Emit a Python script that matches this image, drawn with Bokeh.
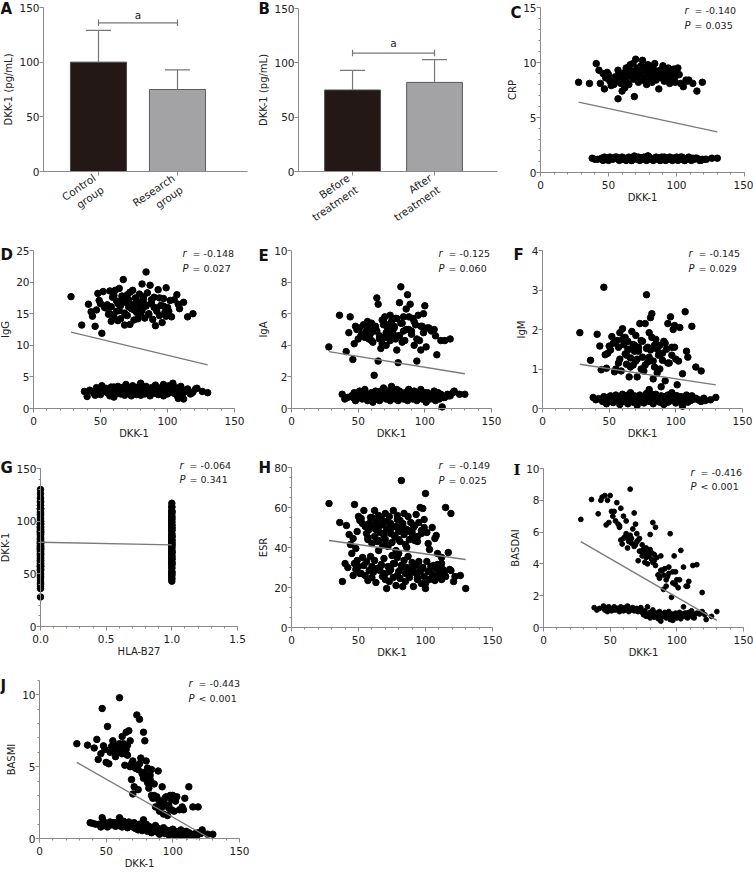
from bokeh.plotting import figure
from bokeh.layouts import row, column
from bokeh.models import (Range1d, FixedTicker, Label, Whisker, TeeHead,
                          ColumnDataSource, PrintfTickFormatter)
from bokeh.embed import file_html
from bokeh.resources import INLINE

# ---------------- data ----------------
A_CATS = ["Control\ngroup", "Research\ngroup"]
A_MEAN = [100, 75]
A_SD = [29, 18]
A_SIG = 136
A_SIG_TEXT = 143

B_CATS = ["Before\ntreatment", "After\ntreatment"]
B_MEAN = [75, 82]
B_SD = [18, 21]
B_SIG = 109
B_SIG_TEXT = 118

BAR_FILL = ["#231815", "#a3a3a6"]
BAR_LINE = ["#4a4a4a", "#5a5a5a"]

DKK1_HIGH = [28, 36, 41, 43, 44, 46, 47, 48, 50, 51,
             52, 54, 55, 56, 57, 58, 58, 59, 60, 61,
             62, 62, 63, 64, 65, 65, 66, 67, 68, 68,
             69, 70, 70, 71, 72, 73, 74, 74, 75, 76,
             77, 78, 78, 79, 80, 81, 81, 82, 83, 84,
             84, 85, 86, 87, 88, 89, 90, 91, 92, 93,
             94, 95, 96, 97, 98, 99, 100, 101, 103, 105,
             107, 109, 112, 115, 119,
             49, 53, 57, 60, 63, 64, 66, 69, 71, 72, 75, 77, 79, 80, 82, 83, 86, 88, 90, 92,
             94, 97, 99, 102, 108]
DKK1_LOW = [38, 40, 45, 46, 47, 48, 49, 50, 51, 53,
            54, 55, 57, 58, 59, 60, 61, 62, 63, 64,
            65, 66, 67, 68, 69, 70, 71, 72, 73, 74,
            75, 76, 77, 78, 79, 80, 80, 81, 82, 83,
            84, 85, 86, 87, 88, 89, 90, 91, 92, 93,
            94, 95, 96, 97, 98, 99, 100, 101, 102, 103,
            104, 105, 106, 107, 108, 109, 110, 111, 112, 113,
            115, 117, 119, 122, 130,
            42, 52, 56, 60, 64, 67, 70, 73, 76, 79, 82, 85, 88, 91, 94, 97, 100, 103, 106, 109,
            112, 114, 118, 121, 126]

HLA_HIGH = [0, 0, 0, 1, 0, 1, 0, 0, 1, 0,
            1, 0, 0, 1, 0, 1, 0, 0, 1, 0,
            0, 1, 0, 1, 0, 0, 1, 0, 1, 0,
            0, 1, 0, 0, 1, 0, 1, 0, 0, 1,
            0, 0, 1, 0, 1, 0, 0, 1, 0, 1,
            0, 0, 1, 0, 1, 0, 0, 1, 0, 0,
            1, 0, 1, 0, 0, 1, 0, 1, 0, 1,
            0, 1, 0, 0, 0,
            1, 0, 0, 1, 0, 0, 1, 0, 1, 0, 0, 1, 0, 0, 1, 0, 1, 0, 0, 1,
            0, 1, 0, 0, 1]
HLA_LOW = [0, 0, 1, 0, 0, 1, 0, 0, 1, 0,
           0, 1, 0, 0, 1, 0, 1, 0, 0, 1,
           0, 0, 1, 0, 0, 1, 0, 1, 0, 0,
           1, 0, 0, 1, 0, 0, 1, 0, 1, 0,
           0, 1, 0, 0, 1, 0, 0, 1, 0, 1,
           0, 0, 1, 0, 0, 1, 0, 0, 1, 0,
           1, 0, 0, 1, 0, 0, 1, 0, 0, 1,
           0, 1, 0, 0, 0,
           0, 1, 0, 0, 1, 0, 1, 0, 0, 1, 0, 1, 0, 0, 1, 0, 0, 1, 0, 1,
           0, 1, 0, 0, 0]

CRP_HIGH = [8.2, 8.1, 9.9, 9.3, 8.1, 9.0, 7.6, 8.6, 8.9, 8.3,
            7.9, 8.0, 8.7, 8.4, 6.7, 8.8, 9.0, 8.1, 7.4, 8.6,
            9.1, 7.7, 8.3, 9.4, 8.0, 9.6, 8.8, 9.2, 8.5, 9.9,
            6.9, 10.3, 8.9, 9.5, 8.2, 9.0, 9.7, 8.6, 10.2, 8.4,
            9.3, 8.9, 8.0, 9.8, 9.1, 8.5, 9.6, 8.2, 9.4, 8.8,
            9.9, 8.4, 9.2, 7.6, 9.0, 8.6, 9.7, 8.3, 9.3, 8.7,
            9.5, 8.1, 9.0, 8.5, 9.4, 8.2, 8.9, 9.5, 8.1, 7.8,
            8.4, 8.4, 8.1, 7.4, 8.2,
            9.1, 8.4, 9.3, 8.7, 9.5, 8.9, 9.8, 8.5, 9.2, 8.8, 9.6, 8.3, 9.0, 9.4, 8.6, 9.1,
            8.9, 9.3, 8.6, 9.2, 8.8, 9.0, 8.7, 8.9, 8.3]
CRP_LOW = [1.3, 1.2, 1.3, 1.1, 1.4, 1.2, 1.3, 1.1, 1.4, 1.2,
           1.3, 1.4, 1.2, 1.1, 1.3, 1.4, 1.2, 1.3, 1.1, 1.2,
           1.4, 1.3, 1.1, 1.2, 1.5, 1.3, 1.2, 1.4, 1.1, 1.3,
           1.2, 1.4, 1.3, 1.1, 1.5, 1.2, 1.4, 1.3, 1.2, 1.1,
           1.3, 1.4, 1.2, 1.3, 1.1, 1.4, 1.2, 1.3, 1.1, 1.2,
           1.3, 1.4, 1.2, 1.1, 1.3, 1.2, 1.4, 1.1, 1.3, 1.2,
           1.4, 1.3, 1.1, 1.2, 1.3, 1.4, 1.2, 1.1, 1.3, 1.2,
           1.3, 1.1, 1.2, 1.2, 1.3,
           1.2, 1.3, 1.4, 1.2, 1.3, 1.1, 1.4, 1.2, 1.3, 1.5, 1.2, 1.3, 1.1, 1.4, 1.2, 1.3,
           1.2, 1.4, 1.1, 1.3, 1.2, 1.3, 1.1, 1.2, 1.3]

IGG_HIGH = [17.7, 13.2, 16.5, 15.3, 14.6, 13.0, 15.6, 18.2, 16.6, 11.9,
            18.5, 15.9, 16.4, 14.9, 18.6, 13.8, 16.1, 17.6, 14.5, 18.7,
            15.4, 17.0, 13.9, 19.0, 16.3, 14.2, 17.8, 20.4, 15.1, 13.2,
            16.8, 18.0, 14.7, 17.2, 13.3, 15.8, 18.7, 16.4, 14.0, 17.5,
            15.2, 16.9, 14.2, 18.1, 16.0, 19.7, 15.5, 17.3, 14.3, 21.6,
            16.2, 18.3, 15.0, 19.5, 16.6, 14.1, 17.6, 13.1, 15.9, 18.8,
            14.7, 16.3, 13.6, 17.4, 15.2, 19.1, 16.0, 15.4, 14.5, 17.2,
            18.0, 15.8, 16.8, 14.5, 15.0,
            17.1, 16.0, 15.0, 17.9, 16.6, 15.5, 17.3, 14.8, 16.1, 18.4, 15.6, 17.0, 16.3,
            15.1, 17.7, 16.5, 14.9, 17.2, 16.0, 15.4, 17.5, 16.2, 14.6, 17.1, 16.5]
IGG_LOW = [2.7, 1.9, 2.4, 2.1, 3.3, 2.6, 3.0, 2.2, 3.6, 2.8,
           3.2, 2.5, 2.0, 3.4, 2.7, 1.8, 3.1, 2.4, 3.5, 2.9,
           2.3, 3.3, 2.6, 2.1, 3.8, 2.9, 2.4, 3.2, 2.0, 3.6,
           2.7, 3.0, 2.2, 3.4, 2.5, 4.0, 2.1, 3.1, 2.8, 2.3,
           3.5, 2.6, 3.0, 2.0, 3.3, 2.7, 2.4, 3.7, 2.9, 2.2,
           3.1, 2.5, 3.4, 2.0, 2.8, 3.2, 2.3, 3.6, 2.6, 3.0,
           4.0, 2.4, 3.3, 2.1, 1.6, 2.9, 3.5, 2.2, 1.5, 2.7,
           3.1, 2.3, 2.6, 3.2, 2.5,
           2.9, 3.1, 2.6, 3.4, 2.8, 3.0, 2.5, 3.3, 2.7, 3.5, 2.4, 3.2, 2.9, 2.6, 3.1, 3.8,
           2.8, 3.0, 2.3, 3.3, 2.6, 2.9, 2.4, 3.1, 2.7]

IGA_HIGH = [3.9, 5.9, 3.6, 4.8, 5.8, 3.1, 4.1, 5.2, 4.4, 5.1,
            4.6, 5.3, 4.5, 4.9, 5.2, 4.4, 5.0, 4.7, 5.4, 4.2,
            4.9, 2.1, 5.1, 7.0, 6.6, 3.0, 4.6, 3.8, 5.6, 4.1,
            5.3, 4.5, 5.8, 4.0, 5.1, 4.7, 5.9, 4.3, 5.5, 4.8,
            5.2, 4.4, 5.7, 3.7, 2.9, 6.7, 4.6, 7.7, 5.4, 4.9,
            5.8, 4.3, 6.3, 7.2, 5.0, 6.6, 4.7, 5.7, 4.0, 5.3,
            3.0, 5.9, 4.3, 3.7, 5.2, 6.0, 6.5, 3.9, 5.1, 4.9,
            5.0, 3.4, 4.3, 4.3, 4.4,
            5.0, 4.7, 5.5, 4.3, 5.2, 4.9, 4.4, 5.6, 4.8, 5.3, 4.5, 5.1, 5.7, 4.6, 5.4, 4.2,
            5.0, 5.8, 4.9, 5.5, 4.4, 5.2, 4.8, 5.1, 4.6]
IGA_LOW = [0.9, 0.6, 0.8, 0.7, 1.0, 0.5, 0.9, 0.7, 1.1, 0.6,
           0.8, 1.2, 0.5, 0.9, 0.7, 1.0, 0.4, 0.8, 1.1, 0.6,
           0.9, 0.5, 1.0, 0.7, 1.3, 0.8, 0.6, 1.1, 0.9, 0.5,
           1.4, 0.7, 1.0, 0.6, 1.2, 0.8, 0.5, 1.1, 0.7, 0.9,
           0.6, 1.0, 0.8, 0.5, 1.2, 0.7, 0.9, 0.6, 1.1, 0.8,
           0.5, 1.0, 0.7, 1.2, 0.6, 0.9, 0.8, 0.4, 1.0, 0.7,
           0.6, 0.9, 0.8, 1.1, 0.5, 0.7, 1.0, 0.6, 0.8, 0.1,
           0.7, 0.9, 0.8, 1.1, 0.9,
           0.7, 1.0, 0.8, 0.6, 0.9, 1.1, 0.7, 0.8, 1.0, 0.6, 0.9, 0.7, 1.2, 0.8, 0.6, 0.9,
           1.0, 0.7, 0.8, 0.6, 0.9, 0.7, 0.8, 1.0, 0.9]

IGM_HIGH = [1.92, 1.22, 1.88, 1.58, 0.98, 3.07, 1.36, 1.02, 1.58, 1.48,
            1.82, 0.93, 1.00, 1.72, 1.55, 1.92, 1.25, 0.95, 2.02, 1.62,
            1.38, 1.80, 1.12, 1.70, 1.50, 0.80, 1.28, 1.95, 1.62, 1.10,
            1.45, 1.85, 1.20, 0.80, 1.55, 2.15, 1.00, 1.72, 1.30, 0.95,
            2.15, 1.52, 2.88, 1.18, 1.92, 2.30, 1.48, 2.40, 0.75, 1.60,
            1.05, 1.75, 0.90, 1.35, 1.60, 0.55, 1.22, 1.70, 0.70, 1.50,
            2.15, 1.15, 2.32, 1.55, 2.00, 2.10, 1.25, 0.60, 2.05, 0.88,
            2.45, 1.30, 2.08, 1.05, 0.95,
            1.40, 1.65, 1.15, 1.75, 1.35, 1.50, 1.05, 1.60, 1.25, 1.45, 1.70, 1.10, 1.55,
            1.30, 1.80, 1.20, 1.50, 1.00, 1.40, 1.65, 1.15, 1.35, 1.55, 1.20, 1.45]
IGM_LOW = [0.28, 0.22, 0.18, 0.30, 0.25, 0.12, 0.28, 0.20, 0.32, 0.15,
           0.26, 0.34, 0.20, 0.10, 0.28, 0.36, 0.18, 0.24, 0.30, 0.12,
           0.22, 0.40, 0.26, 0.16, 0.32, 0.28, 0.08, 0.24, 0.34, 0.20,
           0.30, 0.14, 0.26, 0.38, 0.22, 0.48, 0.18, 0.30, 0.24, 0.12,
           0.28, 0.36, 0.20, 0.26, 0.16, 0.32, 0.24, 0.10, 0.30, 0.22,
           0.34, 0.18, 0.26, 0.40, 0.20, 0.28, 0.14, 0.32, 0.24, 0.18,
           0.30, 0.06, 0.26, 0.22, 0.34, 0.16, 0.28, 0.20, 0.32, 0.24,
           0.26, 0.22, 0.18, 0.20, 0.28,
           0.25, 0.30, 0.20, 0.28, 0.34, 0.18, 0.26, 0.32, 0.22, 0.28, 0.36, 0.20, 0.26,
           0.30, 0.16, 0.24, 0.32, 0.22, 0.28, 0.18, 0.30, 0.24, 0.20, 0.26, 0.22]

ESR_HIGH = [62, 52.5, 51, 46.5, 41.5, 44.5, 61.5, 39.5, 55.5, 53.5,
            54.5, 58.5, 50.5, 47, 44, 52, 49, 55, 42, 51,
            58.5, 45.5, 53, 49.5, 43.5, 56, 47.5, 54.5, 41, 51.5,
            46, 57, 44, 49.5, 40.5, 55.5, 47, 52, 42.5, 58.5,
            45.5, 50.5, 38.5, 56, 48, 53.5, 43, 73.5, 51, 46.5,
            57, 41.5, 49, 55.5, 44, 52.5, 47.5, 50, 43.5, 56.5,
            45.5, 52.5, 60, 48.5, 59.5, 54, 67, 47.5, 39, 50,
            44.5, 37, 35, 60, 57,
            48, 52, 45, 55, 49, 43, 51, 47, 53, 41, 50, 46, 54, 44, 49, 52, 40, 48, 45, 51,
            43, 47, 50, 42, 46]
ESR_LOW = [23, 32, 37, 26, 32, 29, 33.5, 30.5, 27, 35,
           31, 26, 23.5, 28.5, 35.5, 30.5, 27.5, 33.5, 22.5, 29.5,
           38.5, 28.5, 31.5, 25.5, 34.5, 27, 19.5, 30.5, 23, 29,
           36, 25, 32, 21, 35, 28, 37, 24.5, 31, 20.5,
           33.5, 27, 30, 35.5, 25, 29, 32.5, 20.5, 27.5, 31,
           24, 33, 28, 22, 30, 25.5, 19.5, 33, 28, 24,
           30.5, 26.5, 31, 23.5, 29.5, 31.5, 27, 25, 32, 29,
           25.5, 37.5, 28.5, 25.5, 19.5,
           30, 27, 33, 25, 29, 31, 24, 28, 32, 26, 30, 23, 27, 31, 25, 29, 22, 28, 26, 30,
           24, 27, 29, 23, 26]

BASDAI_HIGH = [6.8, 8.05, 7.15, 8.0, 8.2, 8.3, 6.45, 8.0, 8.3, 7.3,
               7.0, 6.7, 7.85, 6.5, 6.3, 7.5, 5.5, 5.25, 7.0, 5.7,
               5.9, 6.7, 5.0, 5.5, 8.7, 5.8, 5.3, 6.2, 7.2, 5.1,
               6.5, 5.9, 5.4, 4.2, 5.6, 4.8, 4.5, 5.2, 4.9, 4.1,
               5.0, 4.6, 4.0, 4.8, 5.85, 4.3, 4.7, 6.6, 4.2, 3.9,
               6.3, 4.4, 3.3, 3.1, 4.5, 3.6, 2.4, 3.7, 2.6, 3.2,
               3.8, 5.9, 1.9, 3.5, 4.5, 2.7, 3.0, 2.5, 4.85, 3.8,
               2.6, 2.9, 3.9, 3.95, 2.2,
               6.6, 7.3, 6.4, 5.6, 5.8, 5.4, 5.6, 5.2, 5.5, 4.8, 4.7, 4.4, 4.5, 4.9, 4.1, 4.6,
               3.3, 3.6, 3.3, 3.0, 3.4, 2.8, 3.5, 3.0, 2.6]
BASDAI_LOW = [1.25, 1.1, 1.35, 1.1, 1.25, 1.0, 1.3, 1.15, 1.05, 1.3,
              1.1, 1.2, 1.0, 1.3, 1.15, 1.05, 1.25, 1.1, 1.35, 1.0,
              1.2, 1.1, 1.25, 1.05, 1.15, 1.2, 1.0, 1.1, 1.25, 0.95,
              0.8, 1.05, 0.7, 1.3, 0.85, 0.6, 0.95, 0.75, 1.1, 0.65,
              0.9, 0.8, 0.55, 1.0, 0.4, 0.85, 0.7, 0.95, 0.6, 0.8,
              1.0, 0.5, 0.85, 0.45, 0.7, 0.9, 0.6, 0.8, 0.95, 0.55,
              0.85, 1.3, 0.7, 0.9, 0.6, 0.95, 0.75, 1.05, 0.8, 0.6,
              0.9, 0.85, 1.0, 0.5, 1.0,
              1.2, 1.1, 1.2, 1.15, 1.1, 1.2, 1.05, 1.1, 0.9, 0.8, 0.75, 0.9, 0.65, 0.8, 0.7,
              0.6, 0.85, 0.7, 0.9, 0.75, 0.65, 0.85, 0.95, 0.8, 0.7]

BASMI_HIGH = [6.6, 6.5, 6.3, 6.9, 5.5, 5.9, 9.05, 6.45, 5.3, 7.8,
              5.2, 6.4, 6.8, 6.1, 5.7, 6.3, 6.5, 6.0, 9.8, 6.4,
              5.9, 7.1, 6.6, 5.1, 7.4, 6.2, 5.8, 7.5, 5.0, 6.8,
              4.1, 5.4, 3.1, 3.6, 4.9, 8.6, 4.8, 3.4, 8.3, 5.6,
              4.6, 7.4, 4.2, 6.8, 5.4, 3.9, 4.9, 3.5, 4.4, 3.0,
              4.8, 2.8, 3.8, 2.2, 2.9, 4.7, 1.9, 2.6, 3.6, 1.7,
              2.4, 2.9, 1.6, 2.1, 3.0, 2.7, 3.0, 1.9, 2.9, 2.0,
              2.2, 2.8, 3.6, 2.2, 2.2,
              6.2, 6.0, 6.4, 6.6, 6.1, 5.9, 6.5, 5.2, 5.0, 4.9, 5.2, 4.5, 4.6, 4.3, 3.8, 4.1,
              3.0, 2.8, 2.5, 2.2, 2.8, 2.3, 2.0, 2.6, 2.0]
BASMI_LOW = [1.1, 1.05, 1.0, 0.8, 1.45, 1.2, 0.9, 1.0, 0.8, 1.15,
             0.95, 1.05, 0.85, 1.1, 0.9, 1.45, 1.0, 0.8, 1.2, 0.95,
             1.05, 0.75, 1.15, 0.9, 1.0, 0.8, 1.1, 0.7, 0.95, 0.6,
             1.0, 0.75, 0.55, 1.3, 0.8, 0.65, 1.0, 0.5, 0.85, 0.7,
             0.4, 0.75, 0.6, 0.9, 0.45, 0.7, 0.3, 0.6, 0.5, 0.75,
             0.35, 0.6, 0.45, 0.25, 0.55, 0.4, 0.65, 0.3, 0.5, 0.2,
             0.45, 0.35, 0.6, 0.25, 0.4, 0.3, 0.5, 0.2, 0.4, 0.3,
             0.25, 0.35, 0.4, 0.6, 0.3,
             1.0, 0.95, 1.1, 0.9, 1.0, 0.85, 0.95, 0.8, 0.7, 0.75, 0.6, 0.55, 0.5, 0.4, 0.45,
             0.35, 0.3, 0.4, 0.3, 0.25, 0.35, 0.3, 0.2, 0.35, 0.3]

FIT_X = [28, 130]
CRP_FIT = [6.4, 3.7]
IGG_FIT = [12.1, 6.9]
IGA_FIT = [3.6, 2.2]
IGM_FIT = [1.12, 0.6]
ESR_FIT = [43.5, 34.0]
BASDAI_FIT = [5.4, 0.45]
BASMI_FIT_X = [28, 128]
BASMI_FIT = [5.3, 0.0]
HLA_FIT_X = [0, 1]
HLA_FIT = [80, 77.5]

STATS = {
    "C": ("= -0.140", "= 0.035"),
    "D": ("= -0.148", "= 0.027"),
    "E": ("= -0.125", "= 0.060"),
    "F": ("= -0.145", "= 0.029"),
    "G": ("= -0.064", "= 0.341"),
    "H": ("= -0.149", "= 0.025"),
    "I": ("= -0.416", "< 0.001"),
    "J": ("= -0.443", "< 0.001"),
}

# ---------------- style / layout constants ----------------
FONT = "DejaVu Sans"
AX = "#8a8a8a"
TXT = "#222222"
FIT_COLOR = "#7a7a7a"
DOT = 6.5

# figure size and position of the plotting box inside it (pixels)
SPECS = {
    "A": dict(w=251, h=225, l=43, r=4, t=7, b=54),
    "B": dict(w=251, h=225, l=47, r=5, t=8, b=54),
    "C": dict(w=251, h=225, l=38, r=9, t=7, b=53),
    "D": dict(w=251, h=225, l=33, r=17, t=25, b=42),
    "E": dict(w=251, h=225, l=40, r=11, t=25, b=42),
    "F": dict(w=251, h=225, l=40, r=11, t=25, b=42),
    "G": dict(w=251, h=215, l=40, r=14, t=18, b=39),
    "H": dict(w=251, h=215, l=40, r=10, t=17, b=38),
    "I": dict(w=251, h=215, l=41, r=10, t=18, b=38),
    "J": dict(w=251, h=208, l=39, r=12, t=15, b=35),
}
LETTER_POS = {"A": (-43, 1), "B": (-40, 0), "C": (-30, 5), "D": (-33, 4), "E": (-33, 5),
              "F": (-29, 4), "G": (-40, -1), "H": (-33, 0), "I": (-30, 1), "J": (-39, 5)}
STAT_POS = {"C": (-9, 3, 15), "D": (-1, 3, 15), "E": (-2, 3, 15), "F": (-3, 3, 15),
            "G": (-7, -3, 14), "H": (-3, -2, 15), "I": (-2, 4, 14), "J": (0, 3, 15)}


class Panel:
    def __init__(self, key, fx, fy):
        s = SPECS[key]
        self.key = key
        self.s = s
        fw = s["w"] - s["l"] - s["r"]
        fh = s["h"] - s["t"] - s["b"]
        self.kx = (fx[1] - fx[0]) / fw
        self.ky = (fy[1] - fy[0]) / fh
        X = (fx[0] - s["l"] * self.kx, fx[1] + s["r"] * self.kx)
        Y = (fy[0] - s["b"] * self.ky, fy[1] + s["t"] * self.ky)
        self.X, self.Y = X, Y
        p = figure(width=s["w"], height=s["h"], x_range=Range1d(*X), y_range=Range1d(*Y),
                   output_backend="svg", toolbar_location=None, min_border=0)
        p.grid.visible = False
        p.outline_line_color = None
        p.background_fill_color = "white"
        p.border_fill_color = "white"
        p.xaxis.fixed_location = fy[0]
        p.xaxis.bounds = fx
        p.yaxis.fixed_location = fx[0]
        p.yaxis.bounds = fy
        for ax in (p.xaxis[0], p.yaxis[0]):
            ax.axis_line_color = AX
            ax.axis_line_width = 1
            ax.major_tick_line_color = AX
            ax.minor_tick_line_color = AX
            ax.major_tick_in = 0
            ax.major_tick_out = 4
            ax.minor_tick_in = 0
            ax.minor_tick_out = 2
            ax.major_label_text_font = FONT
            ax.major_label_text_font_size = "10.5px"
            ax.major_label_text_color = TXT
            ax.axis_label_text_font = FONT
            ax.axis_label_text_font_size = "10px"
            ax.axis_label_text_font_style = "normal"
            ax.axis_label_text_color = TXT
        p.xaxis.major_label_standoff = 4
        p.xaxis.axis_label_standoff = 0
        p.yaxis.major_label_standoff = 0
        p.yaxis.axis_label_standoff = 2
        self.p = p

    def at(self, px, py):
        """figure pixel position (from top-left) -> data coordinates"""
        return self.X[0] + px * self.kx, self.Y[1] - py * self.ky

    def letter(self):
        dx, dy = LETTER_POS[self.key]
        x, y = self.at(self.s["l"] + dx, self.s["t"] + dy)
        font = "DejaVu Serif" if self.key == "I" else FONT
        self.p.add_layout(Label(x=x, y=y, text=self.key, text_font=font, text_font_size="15px",
                                text_font_style="bold", text_color="#111111",
                                text_align="left", text_baseline="middle"))

    def stats(self):
        rx, ry, gap = STAT_POS[self.key]
        r_txt, p_txt = STATS[self.key]
        right = self.s["w"] - self.s["r"] + rx
        for sym, txt, dy in (("r", r_txt, ry), ("P", p_txt, ry + gap)):
            x1, y = self.at(right - 51, self.s["t"] + dy)
            x2, _ = self.at(right - 41, self.s["t"] + dy)
            self.p.add_layout(Label(x=x1, y=y, text=sym, text_font=FONT, text_font_size="10px",
                                    text_font_style="italic", text_color=TXT,
                                    text_align="left", text_baseline="middle"))
            self.p.add_layout(Label(x=x2, y=y, text=txt, text_font=FONT, text_font_size="9.5px",
                                    text_color=TXT, text_align="left", text_baseline="middle"))


def bar_panel(key, cats, means, sds, sig, sig_text, xr, bar_w):
    pan = Panel(key, xr, (0, 150))
    p = pan.p
    xs = [i + 0.5 for i in range(len(cats))]
    p.vbar(x=xs, top=means, width=bar_w, fill_color=BAR_FILL, line_color=BAR_LINE, line_width=1)
    src = ColumnDataSource(dict(x=xs, lower=means, upper=[m + s for m, s in zip(means, sds)]))
    p.add_layout(Whisker(source=src, base="x", upper="upper", lower="lower",
                         line_color="#777777", line_width=1.2, level="glyph",
                         upper_head=TeeHead(size=25, line_color="#777777", line_width=1.2),
                         lower_head=None))
    p.line(x=xs, y=[sig] * len(xs), line_color="#777777", line_width=1.2)
    p.segment(x0=xs, y0=[sig - 3] * len(xs), x1=xs, y1=[sig + 3] * len(xs),
              line_color="#777777", line_width=1.2)
    p.add_layout(Label(x=sum(xs) / len(xs), y=sig_text, text="a", text_font=FONT,
                       text_font_size="10.5px", text_color=TXT,
                       text_align="center", text_baseline="middle"))
    p.xaxis.ticker = FixedTicker(ticks=xs, minor_ticks=[])
    p.xaxis.major_label_overrides = {x: c for x, c in zip(xs, cats)}
    p.xaxis.major_label_orientation = 0.6
    p.xaxis.major_label_standoff = 7
    p.yaxis.ticker = FixedTicker(ticks=[0, 50, 100, 150], minor_ticks=[])
    p.yaxis.axis_label = "DKK-1 (pg/mL)"
    pan.letter()
    return p


def scatter_panel(key, y_hi, y_lo, fit_x, fit_y, ymax, yticks, yminor, ylabel, dot=DOT):
    pan = Panel(key, (0, 150), (0, ymax))
    p = pan.p
    p.scatter(DKK1_HIGH, y_hi, size=dot, color="black", marker="circle")
    p.scatter(DKK1_LOW, y_lo, size=dot, color="black", marker="circle")
    p.line(fit_x, fit_y, line_color=FIT_COLOR, line_width=1.3)
    p.xaxis.ticker = FixedTicker(ticks=[0, 50, 100, 150], minor_ticks=list(range(0, 151, 10)))
    p.yaxis.ticker = FixedTicker(ticks=yticks, minor_ticks=yminor)
    p.xaxis.axis_label = "DKK-1"
    p.yaxis.axis_label = ylabel
    pan.letter()
    pan.stats()
    return p


pA = bar_panel("A", A_CATS, A_MEAN, A_SD, A_SIG, A_SIG_TEXT, (-0.196, 2.386), 0.71)
pB = bar_panel("B", B_CATS, B_MEAN, B_SD, B_SIG, B_SIG_TEXT, (-0.159, 2.268), 0.68)

pC = scatter_panel("C", CRP_HIGH, CRP_LOW, FIT_X, CRP_FIT, 15, [0, 5, 10, 15], list(range(0, 16)), "CRP")
pD = scatter_panel("D", IGG_HIGH, IGG_LOW, FIT_X, IGG_FIT, 25, [0, 5, 10, 15, 20, 25], [], "IgG")
pE = scatter_panel("E", IGA_HIGH, IGA_LOW, FIT_X, IGA_FIT, 10, [0, 2, 4, 6, 8, 10], [], "IgA")
pF = scatter_panel("F", IGM_HIGH, IGM_LOW, FIT_X, IGM_FIT, 4, [0, 1, 2, 3, 4], [], "IgM")

# G: DKK-1 by HLA-B27
panG = Panel("G", (0, 1.5), (0, 150))
pG = panG.p
pG.scatter(HLA_HIGH, DKK1_HIGH, size=DOT, color="black", marker="circle")
pG.scatter(HLA_LOW, DKK1_LOW, size=DOT, color="black", marker="circle")
pG.line(HLA_FIT_X, HLA_FIT, line_color=FIT_COLOR, line_width=1.3)
pG.xaxis.ticker = FixedTicker(ticks=[0, 0.5, 1.0, 1.5], minor_ticks=[i / 10 for i in range(16)])
pG.xaxis.formatter = PrintfTickFormatter(format="%.1f")
pG.yaxis.ticker = FixedTicker(ticks=[0, 50, 100, 150], minor_ticks=list(range(0, 151, 10)))
pG.xaxis.axis_label = "HLA-B27"
pG.yaxis.axis_label = "DKK-1"
panG.letter()
panG.stats()

pH = scatter_panel("H", ESR_HIGH, ESR_LOW, FIT_X, ESR_FIT, 80, [0, 20, 40, 60, 80],
                   list(range(0, 81, 5)), "ESR")
pI = scatter_panel("I", BASDAI_HIGH, BASDAI_LOW, FIT_X, BASDAI_FIT, 10, [0, 2, 4, 6, 8, 10], [],
                   "BASDAI", dot=4.8)
pJ = scatter_panel("J", BASMI_HIGH, BASMI_LOW, BASMI_FIT_X, BASMI_FIT, 11, [0, 5, 10],
                   list(range(0, 12)), "BASMI")

layout = column(row(pA, pB, pC), row(pD, pE, pF), row(pG, pH, pI), row(pJ))

open("out.html", "w").write(file_html(layout, INLINE))
